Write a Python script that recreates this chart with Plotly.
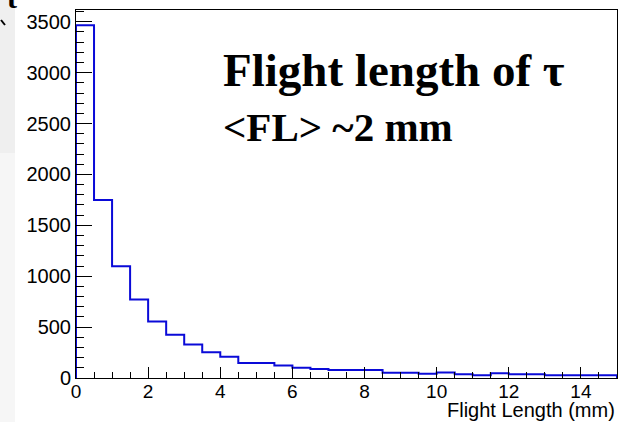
import plotly.graph_objects as go

# Histogram data: bin edges (mm) and counts
bin_edges = [i * 0.5 for i in range(31)]
counts = [3467, 1749, 1097, 772, 556, 426, 330, 252, 209, 147,
          147, 124, 101, 88, 79, 79, 79, 52, 52, 42,
          55, 36, 26, 46, 36, 36, 26, 26, 26, 26]
x_ticks = [0, 2, 4, 6, 8, 10, 12, 14]
y_ticks = [0, 500, 1000, 1500, 2000, 2500, 3000, 3500]

W, H = 620, 422
L, R, T, B = 76, 3, 10, 44
pw, ph = W - L - R, H - T - B


def px_x(p):
    return (p - L) / pw


def px_y(p):
    return (H - B - p) / ph


# step outline
xs = [bin_edges[0]] + bin_edges[:-1] + [bin_edges[-1]]
ys = [0] + counts + [0]

fig = go.Figure()
fig.add_trace(go.Scatter(
    x=xs, y=ys, mode="lines", line=dict(shape="hv", color="#0a0ad8", width=2),
    hoverinfo="skip", showlegend=False, cliponaxis=True))

axis_font = dict(family="Liberation Sans, Arial, sans-serif", size=20, color="black")

fig.update_layout(
    width=W, height=H,
    margin=dict(l=L, r=R, t=T, b=B),
    paper_bgcolor="white", plot_bgcolor="white",
    showlegend=False,
    xaxis=dict(range=[0, 15], tickvals=x_ticks, ticks="inside", ticklen=11,
               tickcolor="black", tickwidth=1, ticklabelstandoff=-4,
               minor=dict(dtick=0.5, ticks="inside", ticklen=6, tickcolor="black"),
               showline=True, linecolor="black", linewidth=1, mirror=True,
               showgrid=False, zeroline=False,
               tickfont=dict(family="Liberation Sans, Arial, sans-serif", size=19, color="black")),
    yaxis=dict(range=[0, 3616], tickvals=y_ticks, ticks="inside", ticklen=16,
               tickcolor="black", tickwidth=1,
               minor=dict(dtick=100, ticks="inside", ticklen=8, tickcolor="black"),
               showline=True, linecolor="black", linewidth=1, mirror=True,
               showgrid=False, zeroline=False, tickfont=axis_font),
)

# left grey strip (slide background)
fig.add_shape(type="rect", xref="paper", yref="paper",
              x0=px_x(0), x1=px_x(15), y0=px_y(153), y1=px_y(0),
              fillcolor="#efefef", line=dict(width=0), layer="below")
fig.add_shape(type="rect", xref="paper", yref="paper",
              x0=px_x(0), x1=px_x(15), y0=px_y(H), y1=px_y(153),
              fillcolor="#f6f6f6", line=dict(width=0), layer="below")
fig.add_shape(type="line", xref="paper", yref="paper",
              x0=px_x(1), y0=px_y(20), x1=px_x(5), y1=px_y(25),
              line=dict(color="black", width=2))

fig.add_annotation(text="<b>t</b>", xref="paper", yref="paper",
                   x=px_x(12), y=px_y(16), xanchor="center", yanchor="bottom",
                   showarrow=False,
                   font=dict(family="Liberation Serif, Times New Roman, serif", size=30, color="black"))

# axis title
fig.add_annotation(text="Flight Length (mm)", xref="paper", yref="paper",
                   x=1, y=px_y(410), xanchor="right", yanchor="middle",
                   showarrow=False, font=dict(family="Liberation Sans, Arial, sans-serif", size=20, color="black"))

serif = "Liberation Serif, Times New Roman, serif"
fig.add_annotation(text="<b>Flight length of τ</b>", xref="paper", yref="paper",
                   x=px_x(221), y=px_y(70), xanchor="left", yanchor="middle",
                   showarrow=False, font=dict(family=serif, size=47, color="black"))
fig.add_annotation(text="<b>&lt;FL&gt; ~2 mm</b>", xref="paper", yref="paper",
                   x=px_x(221), y=px_y(127), xanchor="left", yanchor="middle",
                   showarrow=False, font=dict(family=serif, size=41, color="black"))

fig.write_html("out.html")
